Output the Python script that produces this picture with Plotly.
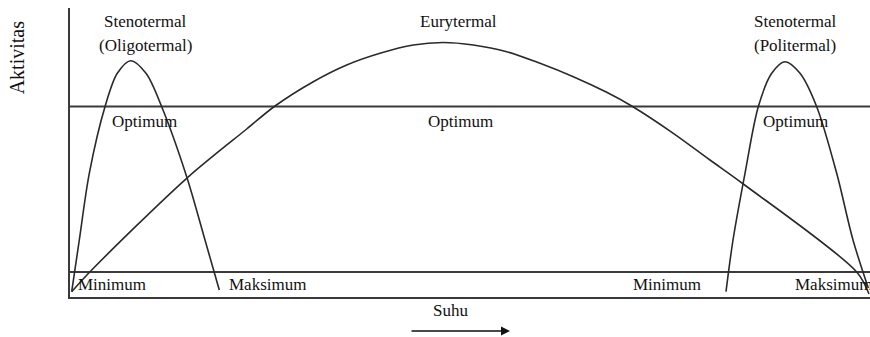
"""
Plots the temperature tolerance diagram (Stenotermal vs Eurytermal activity curves).
"""

import plotly.graph_objects as go


# Oligotermal (cold stenotherm) curve
oligo_x = [1.7, 9.3, 19.3, 35, 47.3, 60.7, 76, 91.7, 116.7, 135, 149.3]
oligo_y = [5.3, 57, 123.7, 190.3, 223.7, 236.3, 223.7, 190.3, 120.3, 57, 7]

# Eurytermal curve
eury_x = [1.7, 21.7, 116.7, 176.7, 205, 243.3, 276.7, 310, 343.3, 373, 403.3,
          436.7, 470, 503.3, 536.7, 561.7, 603.3, 640, 673.3, 786.7, 799]
eury_y = [5.3, 27, 118.7, 168, 191, 215.3, 232, 243.7, 252, 254.5, 252,
          245.3, 233.7, 220.3, 204.7, 191, 163.7, 137, 113, 25, 3]

# Politermal (warm stenotherm) curve
poli_x = [656, 663, 675, 688.3, 701.7, 715, 730, 746.7, 766.7, 783, 798.3]
poli_y = [5.3, 57, 123.7, 190.3, 223.7, 235.3, 223.7, 190.3, 123.7, 57, 9]

# reference levels
level_x = [0, 800]
optimum_level = 190.5
minimum_level = 25

FONT = dict(family="Liberation Serif, Times New Roman, serif", size=17, color="#111111")
LINE_COLOR = "#3a3a3a"


def curve(x, y):
    """Returns a smooth black curve trace."""
    return go.Scatter(x=x, y=y, mode="lines", line=dict(color="#2a2a2a", width=1.6, shape="spline", smoothing=0.9),
                      hoverinfo="skip", showlegend=False)


def level(value):
    """Returns a horizontal line across the full width."""
    return go.Scatter(x=level_x, y=[value, value], mode="lines", line=dict(color=LINE_COLOR, width=2),
                      hoverinfo="skip", showlegend=False)


def build_figure():
    fig = go.Figure()
    fig.add_trace(level(optimum_level))
    fig.add_trace(level(minimum_level))
    fig.add_trace(curve(oligo_x, oligo_y))
    fig.add_trace(curve(eury_x, eury_y))
    fig.add_trace(curve(poli_x, poli_y))

    labels = [
        ("Stenotermal", 75, 276, "center"),
        ("(Oligotermal)", 75, 252, "center"),
        ("Eurytermal", 388, 276, "center"),
        ("Stenotermal", 725, 276, "center"),
        ("(Politermal)", 725, 252, "center"),
        ("Optimum", 74.5, 176, "center"),
        ("Optimum", 390, 176, "center"),
        ("Optimum", 725, 176, "center"),
        ("Minimum", 6, 13, "left"),
        ("Maksimum", 157, 13, "left"),
        ("Minimum", 561, 13, "left"),
        ("Maksimum", 723, 13, "left"),
    ]
    for text, x, y, anchor in labels:
        fig.add_annotation(x=x, y=y, text=text, showarrow=False, xanchor=anchor, yanchor="middle", font=FONT)

    # labels outside the plot area use paper coordinates
    fig.add_annotation(x=-0.066, y=0.83, xref="paper", yref="paper", text="Aktivitas", showarrow=False,
                       textangle=-90, xanchor="center", yanchor="middle", font=dict(FONT, size=20))
    fig.add_annotation(x=0.475, y=-0.045, xref="paper", yref="paper", text="Suhu", showarrow=False,
                       xanchor="center", yanchor="middle", font=FONT)

    # temperature arrow under the axis
    fig.add_annotation(x=0.55, y=-0.118, xref="paper", yref="paper", ax=-100, ay=0,
                       text="", showarrow=True, arrowhead=2, arrowsize=1.2, arrowwidth=1.5, arrowcolor="#111111")

    fig.update_xaxes(range=[0, 800], showline=True, linecolor=LINE_COLOR, linewidth=2, showgrid=False,
                     zeroline=False, showticklabels=False, ticks="")
    fig.update_yaxes(range=[0, 289], showline=True, linecolor=LINE_COLOR, linewidth=2, showgrid=False,
                     zeroline=False, showticklabels=False, ticks="")
    fig.update_layout(width=870, height=337, margin=dict(l=70, r=0, t=8, b=40),
                      plot_bgcolor="white", paper_bgcolor="white")
    return fig


def main():
    fig = build_figure()
    # drop the default body margin so the figure sits at the window origin
    fig.write_html("out.html", config={"displayModeBar": False},
                   post_script="document.body.style.margin='0';document.body.style.overflow='hidden';")


if __name__ == "__main__":
    main()
